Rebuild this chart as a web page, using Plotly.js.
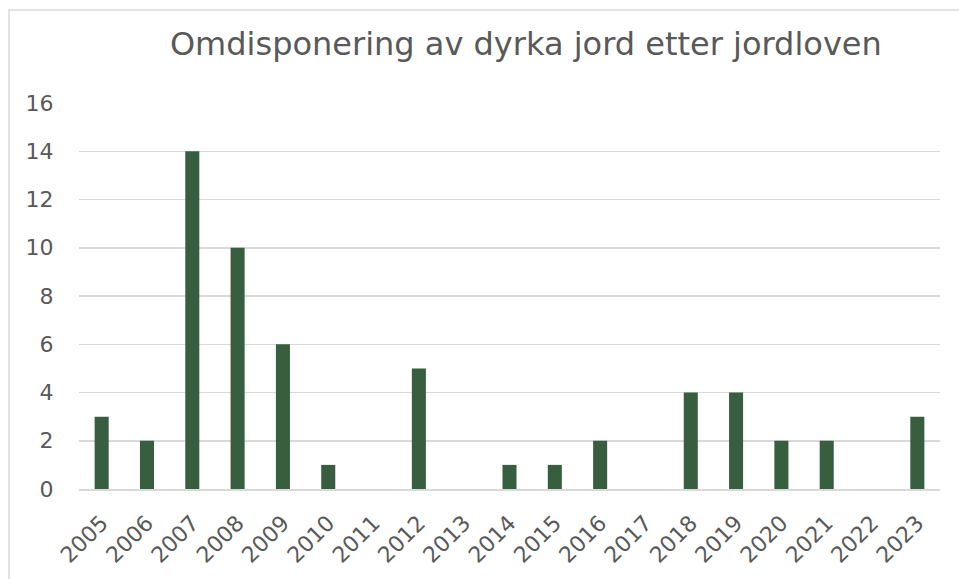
<!DOCTYPE html>
<html>
<head>
<meta charset="utf-8">
<script src="https://cdn.plot.ly/plotly-3.0.1.min.js"></script>
<style>
  html, body { margin: 0; padding: 0; background: #fff; }
  #chart { width: 959px; height: 579px; }
</style>
</head>
<body>
<div id="chart"></div>
<script>
// years and number of cases
const years = ["2005", "2006", "2007", "2008", "2009", "2010", "2011", "2012", "2013", "2014",
               "2015", "2016", "2017", "2018", "2019", "2020", "2021", "2022", "2023"];
const cases = [3, 2, 14, 10, 6, 1, 0, 5, 0, 1, 1, 2, 0, 4, 4, 2, 2, 0, 3];
const yTicks = [0, 2, 4, 6, 8, 10, 12, 14, 16];

const textColor = "#595959";
const gridColor = "#d9d9d9";

const data = [{
    x: years,
    y: cases,
    type: "bar",
    marker: { color: "#375f3f" },
    width: 0.31,
    hoverinfo: "x+y"
}];

const layout = {
    width: 959,
    height: 579,
    margin: { l: 79, r: 19, t: 103, b: 90 },
    paper_bgcolor: "#ffffff",
    plot_bgcolor: "#ffffff",
    font: { family: "DejaVu Sans, Verdana, sans-serif", color: textColor, size: 22 },
    title: {
        text: "Omdisponering av dyrka jord etter jordloven",
        font: { size: 32, color: textColor },
        xref: "paper",
        x: 0.519,
        xanchor: "center",
        y: 0.924,
        yanchor: "middle"
    },
    showlegend: false,
    xaxis: {
        type: "category",
        tickangle: -45,
        ticks: "outside",
        ticklen: 11,
        tickcolor: "rgba(0,0,0,0)",
        showgrid: false,
        showline: true,
        linecolor: gridColor,
        linewidth: 1.5,
        tickfont: { size: 22, color: textColor }
    },
    yaxis: {
        range: [0, 16],
        tickvals: yTicks,
        showgrid: true,
        gridcolor: gridColor,
        gridwidth: 1.5,
        zeroline: false,
        showline: false,
        ticks: "outside",
        ticklen: 20,
        tickcolor: "rgba(0,0,0,0)",
        tickfont: { size: 22, color: textColor }
    },
    shapes: [{
        type: "rect",
        xref: "paper",
        yref: "paper",
        x0: -0.0813,
        x1: 1.2,
        y0: -0.4,
        y1: 1.2409,
        line: { color: gridColor, width: 1.5 },
        fillcolor: "rgba(0,0,0,0)",
        layer: "below"
    }]
};

Plotly.newPlot("chart", data, layout, { displayModeBar: false, staticPlot: true });
</script>
</body>
</html>
